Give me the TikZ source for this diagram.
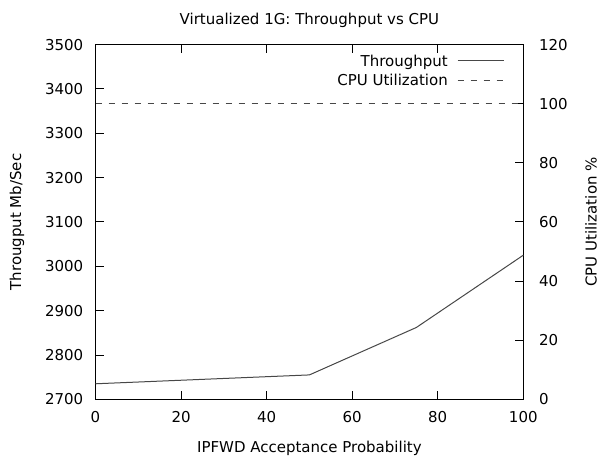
\documentclass[tikz,border=0pt]{standalone}
\usepackage{fontspec}
\setmainfont{DejaVu Sans}
\usepackage{tikz}
\usetikzlibrary{calc}
\usetikzlibrary{positioning}

\begin{document}
\begin{tikzpicture}
[
	x				= 1pt,
	y				= 1pt,
	font			= \fontsize{15}{17}\selectfont,
	Label/.style	= {inner sep = 0cm},
	Frame/.style	= {draw = black, line width = 0.9pt},
	Tick/.style		= {draw = black, line width = 0.9pt},
	Curve/.style	= {draw = black!72, line width = 1pt},
	Dashed/.style	= {Curve, dash pattern = on 6.5pt off 6.5pt},
]

	\useasboundingbox (0,0) rectangle (600,459);

	% corners of the plot area
	\node (SW) [coordinate] at (95.5,59.7) {};
	\node (NE) [coordinate] at (523.3,414.4) {};
	\node (SE) [coordinate] at (SW -| NE) {};
	\node (NW) [coordinate] at (NE -| SW) {};

	% left axis: throughput
	\foreach \t [count = \i from 0] in {2700,2800,...,3500}
	{
		\node (yt\i) [coordinate] at ($(SW)+(0,44.34*\i)$) {};
		\draw [Tick] (yt\i) -- ++(8,0);
		\node (yl\i) [Label, left = 12pt of yt\i] {\t};
	}
	%
	% right axis: cpu
	\foreach \t [count = \i from 0] in {0,20,...,120}
	{
		\node (zt\i) [coordinate] at ($(SE)+(0,59.12*\i)$) {};
		\draw [Tick] (zt\i) -- ++(-8,0);
		\node (zl\i) [Label, right = 15.5pt of zt\i] {\t};
	}
	%
	% bottom axis, mirrored on top
	\foreach \t [count = \i from 0] in {0,20,...,100}
	{
		\node (xt\i) [coordinate] at ($(SW)+(85.56*\i,0)$) {};
		\node (xT\i) [coordinate] at ($(NW)+(85.56*\i,0)$) {};
		\draw [Tick] (xt\i) -- ++(0,8);
		\draw [Tick] (xT\i) -- ++(0,-8);
		\node (xl\i) [Label, below = 12pt of xt\i] {\t};
	}

	\draw [Frame] (SW) rectangle (NE);

	% data
	\begin{scope}[shift = {(SW)}, x = 4.278pt, y = 0.44337pt]
		\draw [Curve] (0,35) -- (50,55) -- (75,162) -- (100,325);
	\end{scope}
	\draw [Dashed] ($(SW)+(0,295.6)$) -- ($(SE)+(0,295.6)$);

	% key
	\node (key1) [Label, anchor = base east] at (448,392.3) {Throughput};
	\node (key2) [Label, anchor = base east] at (448,373.3) {CPU Utilization};
	\coordinate (k1a) at (457.7,398.3);
	\coordinate (k1b) at (504,398.3);
	\coordinate (k2a) at (457.7,378.3);
	\coordinate (k2b) at (504,378.3);
	\draw [Curve] (k1a) -- (k1b);
	\draw [Dashed] (k2a) -- (k2b);

	% titles
	\node (title) [Label, anchor = base] at (309.4,434) {Virtualized 1G: Throughput vs CPU};
	\node (xlab) [Label, anchor = base] at (309.4,6.3) {IPFWD Acceptance Probability};
	\node (ylab) [Label, rotate = 90] at (17,237) {Througput Mb/Sec};
	\node (zlab) [Label, rotate = 90] at (591,237) {CPU Utilization \%};

\end{tikzpicture}
\end{document}
